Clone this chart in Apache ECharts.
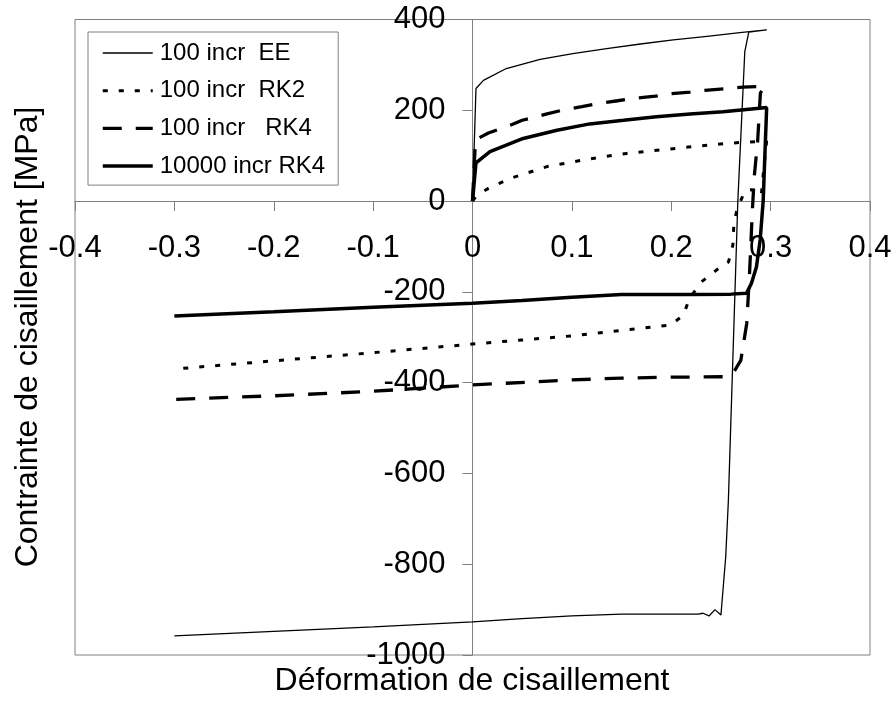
<!DOCTYPE html>
<html>
<head>
<meta charset="utf-8">
<script src="https://cdn.jsdelivr.net/npm/echarts@6/dist/echarts.min.js"></script>
<style>
  html, body { margin: 0; padding: 0; background: #fff; }
  #chart { width: 894px; height: 704px; }
</style>
</head>
<body>
<div id="chart"></div>
<script>
// Shear stress–strain response for four integration schemes
const seriesNames = ['100 incr  EE', '100 incr  RK2', '100 incr   RK4', '10000 incr RK4'];

// 100 increments, explicit Euler
const eeStrain = [0, 0.0035, 0.011, 0.034, 0.068, 0.101, 0.135, 0.169, 0.202, 0.236, 0.269, 0.296,
  0.278, 0.274, 0.267, 0.2575, 0.2548, 0.250, 0.244, 0.238, 0.232, 0.227, 0.2, 0.15, 0.1, 0.05, 0, -0.1, -0.2, -0.3];
const eeStress = [0, 248, 266, 292, 312, 325, 336, 346, 355, 363, 371, 377,
  372, 329, 0, -659, -784, -912, -900, -914, -908, -910, -910, -910, -914, -920, -927, -938, -948, -958];

// 100 increments, Runge-Kutta 2
const rk2Strain = [0, 0.004, 0.016, 0.038, 0.075, 0.115, 0.155, 0.195, 0.236, 0.256, 0.276, 0.296,
  0.2926, 0.2906, 0.2875, 0.2805, 0.274, 0.266, 0.263, 0.262, 0.2576, 0.2455, 0.2304, 0.2184, 0.2123, 0.1997,
  0.15, 0.1, 0.05, 0, -0.1, -0.2, -0.3];
const rk2Stress = [0, 12, 28, 50, 76, 92, 105, 114, 123, 127, 130, 132,
  60, 13, 24, 25, 22, -20, -51, -97, -134, -152, -178, -214, -251, -273,
  -285, -297, -306, -315, -334, -352, -370];

// 100 increments, Runge-Kutta 4
const rk4Strain = [0, 0.003, 0.016, 0.038, 0.05, 0.075, 0.088, 0.11, 0.124, 0.146, 0.16, 0.184, 0.197, 0.219,
  0.234, 0.257, 0.272, 0.294, 0.2897, 0.287, 0.2835, 0.2815, 0.279, 0.276, 0.27, 0.262, 0.255,
  0.2, 0.15, 0.1, 0, -0.1, -0.2, -0.3];
const rk4Stress = [0, 135, 150, 167, 178, 192, 199, 208, 214, 221, 226, 231, 236, 240,
  244, 248, 251, 253, 238, 134, 53, -26, -150, -269, -351, -380, -387,
  -388, -390, -394, -405, -419, -429, -437];

// 10000 increments, Runge-Kutta 4 (reference solution)
const refStrain = [0, 0.0035, 0.0176, 0.051, 0.085, 0.118, 0.152, 0.185, 0.219, 0.252, 0.286, 0.296,
  0.2925, 0.2895, 0.2857, 0.2807, 0.2757, 0.26, 0.219, 0.15, 0.1, 0.05, 0, -0.1, -0.2, -0.3];
const refStress = [0, 84, 109, 138, 156, 170, 178, 186, 192, 197, 204, 206,
  0, -85, -145, -181, -203, -205, -206, -206, -212, -219, -225, -234, -244, -253];

const xTickLabels = ['-0.4', '-0.3', '-0.2', '-0.1', '0', '0.1', '0.2', '0.3', '0.4'];
const yTickLabels = ['-1000', '-800', '-600', '-400', '-200', '0', '200', '400'];

const xTitle = 'Déformation de cisaillement';
const yTitle = 'Contrainte de cisaillement [MPa]';

function pairs(xs, ys) { return xs.map((x, i) => [x, ys[i]]); }

const axisGray = '#808080';
const fontFam = '"Liberation Sans", Arial, sans-serif';

// Line styles shared by each curve and its legend entry
const styles = [
  { color: '#000', width: 1.3, type: 'solid' },
  { color: '#000', width: 3, type: [5, 11] },
  { color: '#000', width: 3.3, type: [19, 14] },
  { color: '#000', width: 3.5, type: 'solid' }
];

const chart = echarts.init(document.getElementById('chart'), null, { renderer: 'canvas' });

const lineBase = {
  type: 'line', symbol: 'none', showSymbol: false, smooth: false, animation: false,
  itemStyle: { color: '#000' }
};

const option = {
  animation: false,
  backgroundColor: '#fff',
  grid: {
    left: 75, right: 24, top: 19.5, bottom: 49,
    containLabel: false, outerBoundsMode: 'none',
    show: true, borderColor: axisGray, borderWidth: 1, backgroundColor: 'transparent'
  },
  xAxis: {
    type: 'value', min: -0.4, max: 0.4, interval: 0.1,
    position: 'bottom', offset: 0,
    axisLine: { onZero: false, lineStyle: { color: axisGray, width: 1 } },
    axisTick: { show: true, length: 10, lineStyle: { color: axisGray } },
    splitLine: { show: false },
    axisLabel: {
      margin: 32, color: '#000', fontSize: 31, fontFamily: fontFam,
      showMinLabel: true, showMaxLabel: true, hideOverlap: false,
      formatter: v => xTickLabels[Math.round((v + 0.4) * 10)]
    }
  },
  yAxis: {
    type: 'value', min: -1000, max: 400, interval: 200,
    position: 'left', offset: 0,
    axisLine: { onZero: false, lineStyle: { color: axisGray, width: 1 } },
    axisTick: { show: true, length: 10, lineStyle: { color: axisGray } },
    splitLine: { show: false },
    axisLabel: {
      margin: 27, color: '#000', fontSize: 31, fontFamily: fontFam,
      showMinLabel: true, showMaxLabel: true, hideOverlap: false,
      formatter: v => yTickLabels[Math.round((v + 1000) / 200)]
    }
  },
  legend: {
    orient: 'vertical', left: 88, top: 32,
    padding: [9, 13, 7, 13],
    itemWidth: 50, itemHeight: 24, itemGap: 13.7,
    backgroundColor: '#fff', borderColor: axisGray, borderWidth: 1,
    itemStyle: { opacity: 0 },
    textStyle: { fontSize: 24, fontFamily: fontFam, color: '#000', lineHeight: 24, padding: [0, 0, 0, 2] },
    data: seriesNames.map((name, i) => ({ name: name, lineStyle: Object.assign({}, styles[i]) }))
  },
  graphic: [
    {
      type: 'text', x: 472, y: 681,
      style: { text: xTitle, fill: '#000', font: '32px ' + fontFam, textAlign: 'center', textVerticalAlign: 'middle' }
    },
    {
      type: 'text', x: 28, y: 337, rotation: Math.PI / 2,
      style: { text: yTitle, fill: '#000', font: '32px ' + fontFam, textAlign: 'center', textVerticalAlign: 'middle' }
    }
  ],
  series: [
    Object.assign({}, lineBase, { name: seriesNames[0], data: pairs(eeStrain, eeStress), lineStyle: styles[0] }),
    Object.assign({}, lineBase, { name: seriesNames[1], data: pairs(rk2Strain, rk2Stress), lineStyle: styles[1] }),
    Object.assign({}, lineBase, { name: seriesNames[2], data: pairs(rk4Strain, rk4Stress), lineStyle: styles[2] }),
    Object.assign({}, lineBase, { name: seriesNames[3], data: pairs(refStrain, refStress), lineStyle: styles[3] })
  ]
};

chart.setOption(option);

// Move both axes (line, ticks and labels) so that they cross at the origin
const origin = chart.convertToPixel({ gridIndex: 0 }, [0, 0]);
const gridRect = chart.getModel().getComponent('grid', 0).coordinateSystem.getRect();
chart.setOption({
  xAxis: { offset: origin[1] - (gridRect.y + gridRect.height) },
  yAxis: { offset: gridRect.x - origin[0] }
});
</script>
</body>
</html>
